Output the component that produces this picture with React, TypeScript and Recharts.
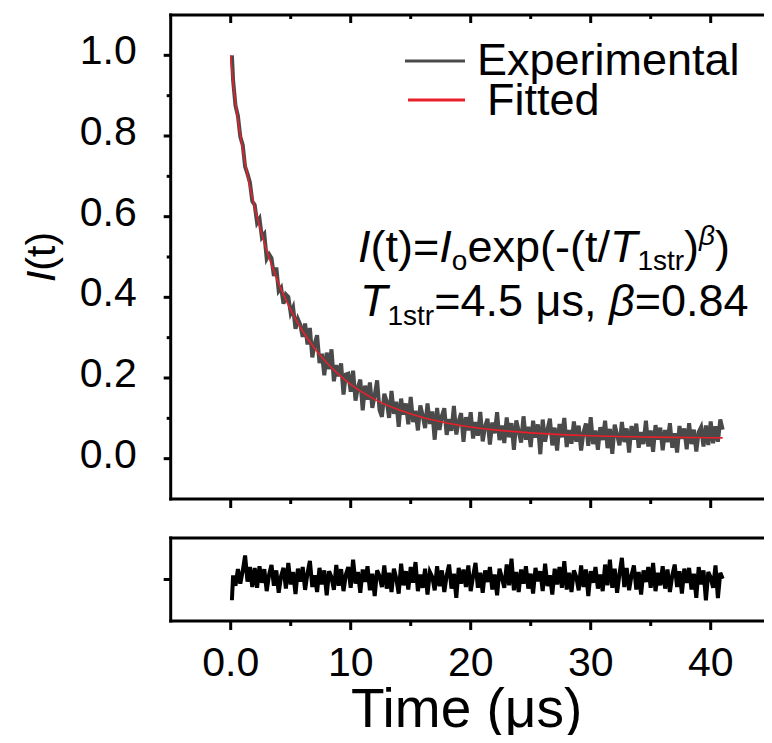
import React from 'react';
import { ComposedChart, Line, XAxis, YAxis, Legend, Label, Customized } from 'recharts';

// ---- data ----
const TIME = [
  0.1,
  0.2, 0.4, 0.6, 0.8, 1.0, 1.2, 1.4, 1.6, 1.8, 2.0,
  2.2, 2.4, 2.6, 2.8, 3.0, 3.2, 3.4, 3.6, 3.8, 4.0,
  4.2, 4.4, 4.6, 4.8, 5.0, 5.2, 5.4, 5.6, 5.8, 6.0,
  6.2, 6.4, 6.6, 6.8, 7.0, 7.2, 7.4, 7.6, 7.8, 8.0,
  8.2, 8.4, 8.6, 8.8, 9.0, 9.2, 9.4, 9.6, 9.8, 10.0,
  10.2, 10.4, 10.6, 10.8, 11.0, 11.2, 11.4, 11.6, 11.8, 12.0,
  12.2, 12.4, 12.6, 12.8, 13.0, 13.2, 13.4, 13.6, 13.8, 14.0,
  14.2, 14.4, 14.6, 14.8, 15.0, 15.2, 15.4, 15.6, 15.8, 16.0,
  16.2, 16.4, 16.6, 16.8, 17.0, 17.2, 17.4, 17.6, 17.8, 18.0,
  18.2, 18.4, 18.6, 18.8, 19.0, 19.2, 19.4, 19.6, 19.8, 20.0,
  20.2, 20.4, 20.6, 20.8, 21.0, 21.2, 21.4, 21.6, 21.8, 22.0,
  22.2, 22.4, 22.6, 22.8, 23.0, 23.2, 23.4, 23.6, 23.8, 24.0,
  24.2, 24.4, 24.6, 24.8, 25.0, 25.2, 25.4, 25.6, 25.8, 26.0,
  26.2, 26.4, 26.6, 26.8, 27.0, 27.2, 27.4, 27.6, 27.8, 28.0,
  28.2, 28.4, 28.6, 28.8, 29.0, 29.2, 29.4, 29.6, 29.8, 30.0,
  30.2, 30.4, 30.6, 30.8, 31.0, 31.2, 31.4, 31.6, 31.8, 32.0,
  32.2, 32.4, 32.6, 32.8, 33.0, 33.2, 33.4, 33.6, 33.8, 34.0,
  34.2, 34.4, 34.6, 34.8, 35.0, 35.2, 35.4, 35.6, 35.8, 36.0,
  36.2, 36.4, 36.6, 36.8, 37.0, 37.2, 37.4, 37.6, 37.8, 38.0,
  38.2, 38.4, 38.6, 38.8, 39.0, 39.2, 39.4, 39.6, 39.8, 40.0,
  40.2, 40.4, 40.6, 40.8, 41.0,
];

const EXPERIMENTAL = [
  1.0,
  0.938, 0.875, 0.850, 0.798, 0.778, 0.724, 0.706, 0.685, 0.638, 0.629,
  0.585, 0.595, 0.549, 0.557, 0.496, 0.507, 0.497, 0.453, 0.474, 0.416,
  0.424, 0.384, 0.407, 0.401, 0.361, 0.375, 0.322, 0.346, 0.332, 0.302,
  0.335, 0.283, 0.324, 0.251, 0.285, 0.306, 0.237, 0.260, 0.207, 0.263,
  0.222, 0.271, 0.192, 0.232, 0.204, 0.236, 0.159, 0.209, 0.211, 0.166,
  0.218, 0.144, 0.177, 0.196, 0.120, 0.181, 0.146, 0.189, 0.126, 0.157,
  0.194, 0.121, 0.104, 0.161, 0.142, 0.101, 0.168, 0.111, 0.141, 0.079,
  0.149, 0.109, 0.137, 0.085, 0.153, 0.091, 0.119, 0.070, 0.132, 0.107,
  0.076, 0.137, 0.086, 0.117, 0.047, 0.126, 0.071, 0.106, 0.125, 0.059,
  0.098, 0.069, 0.131, 0.060, 0.092, 0.113, 0.042, 0.103, 0.070, 0.115,
  0.050, 0.091, 0.057, 0.116, 0.043, 0.080, 0.099, 0.035, 0.090, 0.063,
  0.115, 0.046, 0.082, 0.039, 0.102, 0.053, 0.088, 0.022, 0.095, 0.068,
  0.040, 0.105, 0.047, 0.079, 0.029, 0.094, 0.052, 0.085, 0.011, 0.097,
  0.042, 0.072, 0.099, 0.033, 0.077, 0.020, 0.086, 0.053, 0.101, 0.029,
  0.071, 0.037, 0.092, 0.042, 0.082, 0.020, 0.065, 0.087, 0.032, 0.103,
  0.036, 0.070, 0.022, 0.078, 0.046, 0.094, 0.026, 0.074, 0.012, 0.084,
  0.059, 0.033, 0.091, 0.041, 0.075, 0.015, 0.081, 0.047, 0.087, 0.027,
  0.066, 0.036, 0.094, 0.030, 0.070, 0.017, 0.083, 0.047, 0.077, 0.021,
  0.071, 0.041, 0.088, 0.027, 0.063, 0.015, 0.081, 0.049, 0.075, 0.023,
  0.088, 0.036, 0.072, 0.018, 0.066, 0.078, 0.030, 0.082, 0.034, 0.092,
  0.038, 0.080, 0.042, 0.097, 0.072,
];

const RESIDUAL = [
  -0.05,
  0.010, -0.015, 0.025, -0.010, 0.020, 0.058, -0.005, 0.030, -0.018, 0.028,
  -0.020, 0.032, -0.008, 0.025, -0.028, 0.012, 0.035, -0.015, 0.022, -0.032,
  0.008, 0.028, -0.022, 0.040, -0.012, 0.018, -0.035, 0.026, -0.005, 0.030,
  -0.025, 0.015, 0.045, -0.018, 0.010, -0.030, 0.028, -0.012, 0.022, -0.038,
  0.020, 0.005, -0.025, 0.035, -0.015, 0.025, -0.028, 0.012, 0.030, -0.020,
  0.048, -0.010, 0.018, -0.032, 0.024, -0.006, 0.032, -0.026, 0.014, -0.040,
  0.022, 0.008, -0.018, 0.034, -0.022, 0.016, -0.030, 0.026, 0.002, -0.034,
  0.038, -0.014, 0.020, -0.024, 0.030, -0.008, 0.042, -0.028, 0.012, -0.020,
  0.026, -0.036, 0.018, 0.006, -0.026, 0.032, -0.016, 0.022, -0.030, 0.010,
  0.036, -0.022, 0.014, -0.044, 0.028, -0.010, 0.024, -0.018, 0.034, -0.028,
  0.008, 0.040, -0.020, 0.016, -0.032, 0.022, -0.006, 0.030, -0.024, 0.012,
  -0.038, 0.026, 0.004, -0.020, 0.036, -0.014, 0.050, -0.026, 0.018, -0.030,
  0.024, -0.010, 0.032, -0.022, 0.014, -0.034, 0.028, -0.004, 0.020, -0.028,
  0.038, -0.016, 0.010, -0.036, 0.026, -0.012, 0.030, -0.020, 0.044, -0.024,
  0.016, -0.030, 0.022, 0.006, -0.026, 0.034, -0.018, 0.024, -0.040, 0.020,
  -0.008, 0.030, -0.022, 0.012, -0.028, 0.036, -0.014, 0.048, -0.020, 0.026,
  -0.032, 0.014, 0.052, -0.018, 0.028, -0.026, 0.010, 0.034, -0.024, 0.018,
  -0.036, 0.022, -0.006, 0.030, -0.020, 0.040, -0.028, 0.016, -0.014, 0.032,
  -0.022, 0.024, -0.030, 0.010, 0.036, -0.018, 0.020, -0.034, 0.026, -0.008,
  0.028, -0.024, 0.014, -0.044, 0.030, -0.012, 0.022, -0.050, 0.018, 0.005,
  -0.020, 0.034, -0.045, 0.016, 0.002,
];

const FIT_TIME = [
  0, 0.05, 0.1, 0.2, 0.4, 0.6, 0.8, 1.0, 1.2, 1.4,
  1.6, 1.8, 2.0, 2.5, 3.0, 3.5, 4.0, 4.5, 5, 6,
  7, 8, 9, 10, 12, 14, 16, 18, 20, 22,
  25, 28, 30, 35, 40, 41,
];
const FIT_VALUE = [
  1.0, 0.979, 0.962, 0.933, 0.883, 0.840, 0.802, 0.766, 0.733, 0.703,
  0.674, 0.648, 0.623, 0.566, 0.516, 0.473, 0.434, 0.400, 0.369, 0.316,
  0.273, 0.238, 0.209, 0.184, 0.147, 0.121, 0.102, 0.0886, 0.0787, 0.0714,
  0.064, 0.0591, 0.0569, 0.0535, 0.0518, 0.0516,
];

const X_TICKS = [0, 5, 10, 15, 20, 25, 30, 35, 40];
const X_MAJOR = [0, 10, 20, 30, 40];
const X_LABELS = ['0.0', '10', '20', '30', '40'];
const Y_TICKS = [0, 0.1, 0.2, 0.3, 0.4, 0.5, 0.6, 0.7, 0.8, 0.9, 1.0];
const Y_MAJOR = [0, 0.2, 0.4, 0.6, 0.8, 1.0];
const Y_LABELS = ['0.0', '0.2', '0.4', '0.6', '0.8', '1.0'];
const R_TICKS = [0];

const expData = TIME.map((t, i) => ({ t, y: EXPERIMENTAL[i] }));
const fitData = FIT_TIME.map((t, i) => ({ t, y: FIT_VALUE[i] }));
const resData = TIME.map((t, i) => ({ t, r: RESIDUAL[i] }));

const FONT = '"Liberation Sans", Arial, Helvetica, sans-serif';
const BLACK = '#000';
const GRAY = '#4a4a4a';
const RED = '#e8202a';

const axisLine = { stroke: BLACK, strokeWidth: 3, strokeLinecap: 'square' as const };

const idxOf = (arr: number[], v: number) => arr.findIndex((a) => Math.abs(a - v) < 1e-9);

const BottomTick = (props: any) => {
  const { x, y, payload, showLabels } = props;
  const i = idxOf(X_MAJOR, payload.value);
  const major = i >= 0;
  return (
    <g>
      <line x1={x} x2={x} y1={y} y2={y + (major ? 9 : 5)} stroke={BLACK} strokeWidth={3} />
      {showLabels && major ? (
        <text x={x} y={y + 55} textAnchor="middle" fontSize={41} fontFamily={FONT} fill={BLACK}>
          {X_LABELS[i]}
        </text>
      ) : null}
    </g>
  );
};

const TopTick = (props: any) => {
  const { x, y, payload } = props;
  const major = idxOf(X_MAJOR, payload.value) >= 0;
  return <line x1={x} x2={x} y1={y} y2={y + (major ? 8 : 4)} stroke={BLACK} strokeWidth={3} />;
};

const LeftTick = (props: any) => {
  const { x, y, payload, showLabels } = props;
  const i = idxOf(Y_MAJOR, payload.value);
  const major = i >= 0 || !showLabels;
  return (
    <g>
      <line x1={x - (major ? 7 : 4)} x2={x} y1={y} y2={y} stroke={BLACK} strokeWidth={3} />
      {showLabels && i >= 0 ? (
        <text x={x - 34} y={y + 9} textAnchor="end" fontSize={41} fontFamily={FONT} fill={BLACK}>
          {Y_LABELS[i]}
        </text>
      ) : null}
    </g>
  );
};

const RightTick = (props: any) => {
  const { x, y, payload, allMajor } = props;
  const major = allMajor || idxOf(Y_MAJOR, payload.value) >= 0;
  return <line x1={x - (major ? 6 : 4)} x2={x} y1={y} y2={y} stroke={BLACK} strokeWidth={3} />;
};

const YTitle = (props: any) => {
  const vb = props.viewBox;
  const cy = vb.y + vb.height / 2;
  const cx = 55;
  return (
    <text
      x={cx}
      y={cy}
      transform={`rotate(-90, ${cx}, ${cy})`}
      textAnchor="middle"
      fontSize={41}
      fontFamily={FONT}
      fill={BLACK}
    >
      <tspan fontStyle="italic">I</tspan>
      <tspan>(t)</tspan>
    </text>
  );
};

const XTitle = (props: any) => {
  const vb = props.viewBox;
  return (
    <text
      x={vb.x + vb.width / 2 - 4}
      y={vb.y + 106}
      textAnchor="middle"
      fontSize={55}
      fontFamily={FONT}
      fill={BLACK}
    >
      Time (μs)
    </text>
  );
};

const LegendContent = (props: any) => {
  const items = props.payload || [];
  const rows = [
    { ly: 31, lx1: 10, lx2: 70, tx: 82, ty: 45 },
    { ly: 70, lx1: 13, lx2: 70, tx: 92, ty: 85 },
  ];
  return (
    <svg width={377} height={100} style={{ display: 'block' }}>
      {items.map((it: any, i: number) => {
        const r = rows[i] || rows[rows.length - 1];
        return (
          <g key={i}>
            <line x1={r.lx1} x2={r.lx2} y1={r.ly} y2={r.ly} stroke={it.color} strokeWidth={3} />
            <text x={r.tx} y={r.ty} fontSize={45} fontFamily={FONT} fill={BLACK}>
              {it.value}
            </text>
          </g>
        );
      })}
    </svg>
  );
};

const Annotation = () => (
  <g fontFamily={FONT} fill={BLACK}>
    <text x={358} y={262} fontSize={45}>
      <tspan fontStyle="italic">I</tspan>
      <tspan>(t)=</tspan>
      <tspan fontStyle="italic">I</tspan>
      <tspan fontSize={28} dy={8}>o</tspan>
      <tspan dy={-8}>exp(-(t/</tspan>
      <tspan fontStyle="italic">T</tspan>
      <tspan fontSize={28} dy={8}>1str</tspan>
      <tspan dy={-8}>)</tspan>
      <tspan fontSize={28} fontStyle="italic" dy={-17}>β</tspan>
      <tspan dy={17}>)</tspan>
    </text>
    <text x={360} y={316} fontSize={45}>
      <tspan fontStyle="italic">T</tspan>
      <tspan fontSize={28} dy={9}>1str</tspan>
      <tspan dy={-9}>=4.5 μs, </tspan>
      <tspan fontStyle="italic">β</tspan>
      <tspan>=0.84</tspan>
    </text>
  </g>
);

export default function App() {
  return (
    <div
      style={{
        position: 'relative',
        width: 772,
        height: 743,
        margin: '-8px 0 -8px -8px',
        overflow: 'hidden',
        background: '#fff',
      }}
    >
      <div style={{ position: 'absolute', left: 0, top: 0 }}>
        <ComposedChart width={772} height={520} margin={{ top: 14, right: 0.3, bottom: 20, left: 0 }}>
          <XAxis
            xAxisId="b"
            type="number"
            dataKey="t"
            domain={[-5, 45]}
            ticks={X_TICKS}
            interval={0}
            allowDataOverflow
            height={1}
            tickSize={0}
            tickMargin={0}
            tickLine={false}
            axisLine={axisLine}
            tick={(p: any) => <BottomTick {...p} showLabels={false} />}
          />
          <XAxis
            xAxisId="top"
            orientation="top"
            type="number"
            dataKey="t"
            domain={[-5, 45]}
            ticks={X_TICKS}
            interval={0}
            allowDataOverflow
            height={1}
            tickSize={0}
            tickMargin={0}
            tickLine={false}
            axisLine={axisLine}
            tick={(p: any) => <TopTick {...p} />}
          />
          <YAxis
            yAxisId="l"
            type="number"
            domain={[-0.1, 1.1]}
            ticks={Y_TICKS}
            interval={0}
            allowDataOverflow
            width={170.7}
            tickSize={0}
            tickMargin={0}
            tickLine={false}
            axisLine={axisLine}
            tick={(p: any) => <LeftTick {...p} showLabels />}
          >
            <Label content={(p: any) => <YTitle {...p} />} />
          </YAxis>
          <YAxis
            yAxisId="r"
            orientation="right"
            type="number"
            domain={[-0.1, 1.1]}
            ticks={Y_TICKS}
            interval={0}
            allowDataOverflow
            width={1}
            tickSize={0}
            tickMargin={0}
            tickLine={false}
            axisLine={axisLine}
            tick={(p: any) => <RightTick {...p} />}
          />
          <Line
            xAxisId="b"
            yAxisId="l"
            data={expData}
            dataKey="y"
            name="Experimental"
            type="linear"
            stroke={GRAY}
            strokeWidth={4}
            strokeLinejoin="miter"
            dot={false}
            activeDot={false}
            isAnimationActive={false}
          />
          <Line
            xAxisId="b"
            yAxisId="l"
            data={fitData}
            dataKey="y"
            name="Fitted"
            type="monotone"
            stroke={RED}
            strokeWidth={1.6}
            dot={false}
            activeDot={false}
            isAnimationActive={false}
          />
          <Legend
            layout="vertical"
            align="center"
            verticalAlign="middle"
            wrapperStyle={{ position: 'absolute', left: 395, top: 30, width: 377, height: 100 }}
            content={(p: any) => <LegendContent {...p} />}
          />
          <Customized component={Annotation} />
        </ComposedChart>
      </div>
      <div style={{ position: 'absolute', left: 0, top: 520 }}>
        <ComposedChart
          width={772}
          height={223}
          data={resData}
          margin={{ top: 17, right: 0.3, bottom: 121, left: 0 }}
        >
          <XAxis
            xAxisId="b"
            type="number"
            dataKey="t"
            domain={[-5, 45]}
            ticks={X_TICKS}
            interval={0}
            allowDataOverflow
            height={1}
            tickSize={0}
            tickMargin={0}
            tickLine={false}
            axisLine={axisLine}
            tick={(p: any) => <BottomTick {...p} showLabels />}
          >
            <Label content={(p: any) => <XTitle {...p} />} />
          </XAxis>
          <XAxis
            xAxisId="top"
            orientation="top"
            type="number"
            dataKey="t"
            domain={[-5, 45]}
            ticks={[]}
            allowDataOverflow
            height={1}
            tickLine={false}
            tick={false}
            axisLine={axisLine}
          />
          <YAxis
            yAxisId="l"
            type="number"
            domain={[-0.1, 0.1]}
            ticks={R_TICKS}
            interval={0}
            allowDataOverflow
            width={170.7}
            tickSize={0}
            tickMargin={0}
            tickLine={false}
            axisLine={axisLine}
            tick={(p: any) => <LeftTick {...p} showLabels={false} />}
          />
          <YAxis
            yAxisId="r"
            orientation="right"
            type="number"
            domain={[-0.1, 0.1]}
            ticks={R_TICKS}
            interval={0}
            allowDataOverflow
            width={1}
            tickSize={0}
            tickMargin={0}
            tickLine={false}
            axisLine={axisLine}
            tick={(p: any) => <RightTick {...p} allMajor />}
          />
          <Line
            xAxisId="b"
            yAxisId="l"
            dataKey="r"
            name="Residual"
            type="linear"
            stroke={BLACK}
            strokeWidth={4}
            dot={false}
            activeDot={false}
            isAnimationActive={false}
          />
        </ComposedChart>
      </div>
    </div>
  );
}
